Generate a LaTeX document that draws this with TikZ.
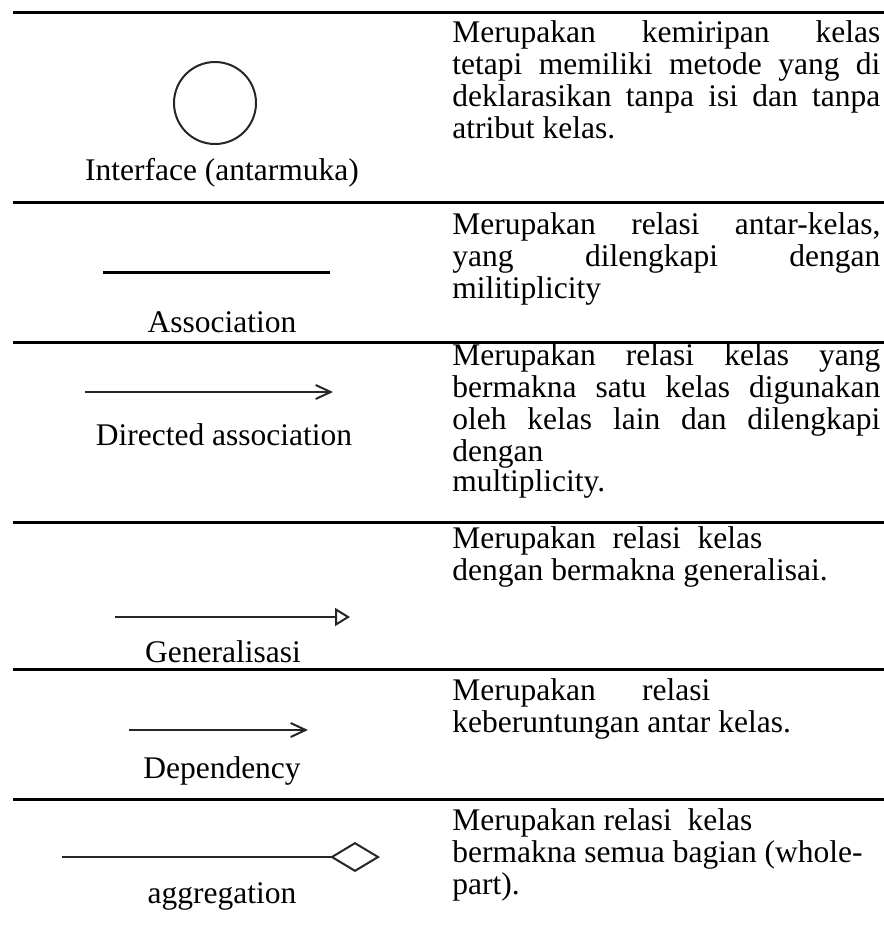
\documentclass[tikz,border=0pt]{standalone}
\usepackage{fontspec}
\setmainfont{Liberation Serif}
\usetikzlibrary{arrows.meta}

\newcommand{\jline}[2][\linewidth]{\makebox[#1][s]{#2}}
\newcommand{\desc}[1]{\parbox[t]{214pt}{\fontsize{15.75pt}{16pt}\selectfont #1}}

\begin{document}
\begin{tikzpicture}[x=0.5pt,y=0.5pt]
\tikzstyle{every node}+=[inner sep=0pt, font=\fontsize{15.75pt}{16pt}\selectfont]
\tikzstyle{rowline}=[line width=1.5pt]
\tikzstyle{sym}=[line width=1pt, black!85]
\tikzstyle{kindtext}=[anchor=base]
\tikzstyle{desctext}=[anchor=base west]
\useasboundingbox (0,0) rectangle (884,-927);
% row rules
\draw [rowline] (13,-12) -- (884,-12);
\draw [rowline] (13,-202) -- (884,-202);
\draw [rowline] (13,-342) -- (884,-342);
\draw [rowline] (13,-522) -- (884,-522);
\draw [rowline] (13,-669) -- (884,-669);
\draw [rowline] (13,-799) -- (884,-799);
% symbols
\draw [sym] (215,-103) circle (41);
\draw [line width=1.5pt] (103,-272) -- (330,-272);
\draw [sym, -{Straight Barb[length=7.5pt,width=7pt]}] (85,-392) -- (333,-392);
\draw [sym, -{Triangle[open,length=7.5pt,width=9pt]}] (115,-617) -- (350,-617);
\draw [sym, -{Straight Barb[length=7.5pt,width=7pt]}] (129,-730) -- (308,-730);
\draw [sym, -{Diamond[open,length=25pt,width=15pt]}] (62,-857) -- (380,-857);
% names
\node [kindtext] (iface) at (222,-180) {Interface (antarmuka)};
\node [kindtext] (assoc) at (222,-332) {Association};
\node [kindtext] (dirassoc) at (224,-445) {Directed association};
\node [kindtext] (gener) at (223,-662) {Generalisasi};
\node [kindtext] (depend) at (222,-778) {Dependency};
\node [kindtext] (aggr) at (222,-903) {aggregation};
% descriptions
\node [desctext] (ifacedesc) at (452,-42) {\desc{\jline{Merupakan kemiripan kelas}\\
  \jline{tetapi memiliki metode yang di}\\
  \jline{deklarasikan tanpa isi dan tanpa}\\
  atribut kelas.}};
\node [desctext] (assocdesc) at (452,-234) {\desc{\jline{Merupakan relasi antar-kelas,}\\
  \jline{yang dilengkapi dengan}\\
  militiplicity}};
\node [desctext] (dirassocdesc) at (452,-365) {\desc{\jline{Merupakan relasi kelas yang}\\
  \jline{bermakna satu kelas digunakan}\\
  \jline{oleh kelas lain dan dilengkapi}\\
  dengan\\[-1pt]
  multiplicity.}};
\node [desctext] (generdesc) at (452,-548) {\desc{\jline[155pt]{Merupakan relasi kelas}\\
  dengan bermakna generalisai.}};
\node [desctext] (dependdesc) at (452,-700) {\desc{\jline[129pt]{Merupakan relasi}\\
  keberuntungan antar kelas.}};
\node [desctext] (aggrdesc) at (452,-830) {\desc{Merupakan relasi\ \ kelas\\
  bermakna semua bagian (whole-\\
  part).}};
\end{tikzpicture}
\end{document}
